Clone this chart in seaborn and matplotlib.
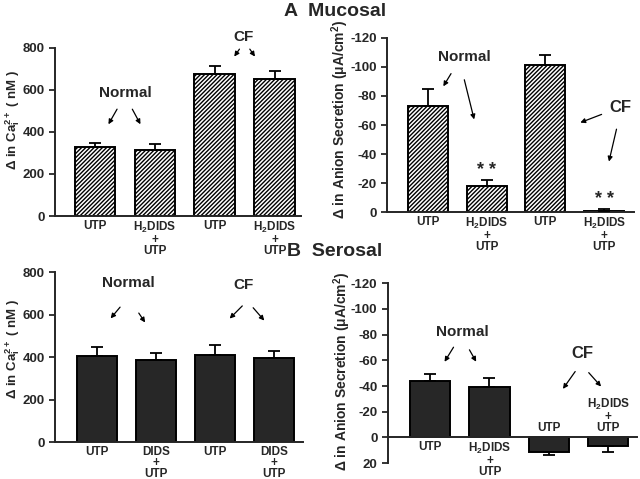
import matplotlib
matplotlib.use("Agg")
import matplotlib.pyplot as plt
import seaborn as sns

# 数据
x_pos = [0, 1, 2, 3]
muc_ca = [328, 315, 678, 650]
muc_ca_err = [18, 28, 36, 40]
muc_isc = [-73, -18, -101, -1]
muc_isc_err = [12, 4.5, 7.5, 1]
ser_ca = [407, 387, 412, 395]
ser_ca_err = [42, 30, 44, 32]
ser_isc = [-44, -39, 11, 7]
ser_isc_err = [5, 7.5, 3, 4]

lbl_dids2 = "H$_2$DIDS\n+\nUTP"
lbl_dids = "DIDS\n+\nUTP"
muc_ticks = ["UTP", lbl_dids2, "UTP", lbl_dids2]
ser_ca_ticks = ["UTP", lbl_dids, "UTP", lbl_dids]

sns.set_style("ticks")
plt.rcParams['font.family'] = ['Liberation Sans', 'DejaVu Sans']
plt.rcParams['font.weight'] = 'bold'
plt.rcParams['axes.unicode_minus'] = False
plt.rcParams['mathtext.fontset'] = 'custom'
plt.rcParams['mathtext.rm'] = 'Liberation Sans:bold'
plt.rcParams['mathtext.bf'] = 'Liberation Sans:bold'
plt.rcParams['mathtext.it'] = 'Liberation Sans:bold'
plt.rcParams['mathtext.default'] = 'bf'
plt.rcParams['hatch.linewidth'] = 1.0

fig = plt.figure(figsize=(6.4, 4.79), dpi=100)
ax_tl = fig.add_axes([0.086, 0.549, 0.385, 0.351])
ax_tr = fig.add_axes([0.605, 0.557, 0.385, 0.364])
ax_bl = fig.add_axes([0.086, 0.077, 0.388, 0.355])
ax_br = fig.add_axes([0.606, 0.033, 0.389, 0.376])

ylab_ca = "$\\Delta$ in Ca$^{2+}_{i}$ ( nM )"
ylab_isc = "$\\Delta$ in Anion Secretion ($\\mu$A/cm$^2$)"


def draw(ax, vals, errs, mucosal):
    fc = "white" if mucosal else "#272727"
    sns.barplot(x=x_pos, y=vals, ax=ax, width=0.68, color=fc,
                edgecolor="black", linewidth=1.4, saturation=1)
    if mucosal:
        for p in ax.patches:
            p.set_hatch("////////")
    lower = [e if v < 0 else 0 for v, e in zip(vals, errs)]
    upper = [e if v >= 0 else 0 for v, e in zip(vals, errs)]
    ax.errorbar(x_pos, vals, yerr=[lower, upper], fmt="none", ecolor="black",
                elinewidth=1.3, capsize=4, capthick=1.3, zorder=5)
    sns.despine(ax=ax)
    for s in ["left", "bottom"]:
        ax.spines[s].set_linewidth(1.4)
    ax.tick_params(axis="y", labelsize=9.5, width=1.3, length=4)
    ax.tick_params(axis="x", length=0, labelsize=8.5, pad=3)


def ylabel(ax, text, x, y, size):
    ax.set_ylabel(text, fontsize=size, fontweight="bold", va="center")
    ax.yaxis.set_label_coords(x, y)


def arrow(ax, x0, y0, x1, y1):
    ax.annotate("", xy=(x1, y1), xytext=(x0, y0), annotation_clip=False,
                arrowprops=dict(arrowstyle="-|>", color="black", lw=0.9,
                                mutation_scale=7))


# A Mucosal - Ca
draw(ax_tl, muc_ca, muc_ca_err, True)
ax_tl.set_ylim(0, 800)
ax_tl.set_xlim(-0.67, 3.45)
ax_tl.set_yticks([0, 200, 400, 600, 800])
ax_tl.set_xticks(x_pos)
ax_tl.set_xticklabels(muc_ticks, va="top", linespacing=0.85)
ylabel(ax_tl, ylab_ca, -0.172, 0.57, 9.5)
ax_tl.set_xlabel("")
ax_tl.text(0.5, 585, "Normal", ha="center", va="center", fontsize=11, fontweight="bold")
arrow(ax_tl, 0.39, 520, 0.2, 425)
arrow(ax_tl, 0.6, 520, 0.78, 425)
ax_tl.text(2.48, 850, "CF", ha="center", va="center", fontsize=11, fontweight="bold", clip_on=False)
arrow(ax_tl, 2.44, 805, 2.3, 748)
arrow(ax_tl, 2.56, 805, 2.7, 748)

# A Mucosal - Isc
draw(ax_tr, muc_isc, muc_isc_err, True)
ax_tr.set_ylim(0, -120)
ax_tr.set_xlim(-0.69, 3.5)
ax_tr.set_yticks([0, -20, -40, -60, -80, -100, -120])
ax_tr.set_xticks(x_pos)
ax_tr.set_xticklabels(muc_ticks, va="top", linespacing=0.85)
ylabel(ax_tr, ylab_isc, -0.19, 0.53, 10)
ax_tr.set_xlabel("")
ax_tr.text(0.62, -107, "Normal", ha="center", va="center", fontsize=11, fontweight="bold")
arrow(ax_tr, 0.42, -97, 0.24, -85)
arrow(ax_tr, 0.61, -93, 0.8, -62)
ax_tr.text(3.27, -72, "CF", ha="center", va="center", fontsize=12, fontweight="bold")
arrow(ax_tr, 3.0, -68, 2.55, -61)
arrow(ax_tr, 3.22, -59, 3.07, -33)
ax_tr.text(1, -29, "* *", ha="center", va="center", fontsize=13, fontweight="bold")
ax_tr.text(3, -9, "* *", ha="center", va="center", fontsize=13, fontweight="bold")

# B Serosal - Ca
draw(ax_bl, ser_ca, ser_ca_err, False)
ax_bl.set_ylim(0, 800)
ax_bl.set_xlim(-0.71, 3.49)
ax_bl.set_yticks([0, 200, 400, 600, 800])
ax_bl.set_xticks(x_pos)
ax_bl.set_xticklabels(ser_ca_ticks, va="top", linespacing=0.85)
ylabel(ax_bl, ylab_ca, -0.17, 0.55, 9.5)
ax_bl.set_xlabel("")
ax_bl.text(0.53, 748, "Normal", ha="center", va="center", fontsize=11, fontweight="bold")
arrow(ax_bl, 0.42, 645, 0.2, 572)
arrow(ax_bl, 0.68, 618, 0.84, 552)
ax_bl.text(2.47, 740, "CF", ha="center", va="center", fontsize=11, fontweight="bold")
arrow(ax_bl, 2.49, 650, 2.21, 572)
arrow(ax_bl, 2.61, 642, 2.86, 562)

# B Serosal - Isc
draw(ax_br, ser_isc, ser_isc_err, False)
ax_br.set_ylim(20, -120)
ax_br.set_xlim(-0.71, 3.48)
ax_br.set_yticks([20, 0, -20, -40, -60, -80, -100, -120])
ax_br.spines["bottom"].set_position(("data", 0))
ax_br.set_xticks([])
ylabel(ax_br, ylab_isc, -0.185, 0.51, 10)
ax_br.set_xlabel("")
ax_br.text(0, 3, "UTP", ha="center", va="top", fontsize=8.5, fontweight="bold")
ax_br.text(1, 3, lbl_dids2, ha="center", va="top", fontsize=8.5, fontweight="bold", linespacing=0.85)
ax_br.text(2, -3, "UTP", ha="center", va="bottom", fontsize=8.5, fontweight="bold")
ax_br.text(3, -3, lbl_dids2, ha="center", va="bottom", fontsize=8.5, fontweight="bold", linespacing=0.85)
ax_br.text(0.55, -82, "Normal", ha="center", va="center", fontsize=11, fontweight="bold")
arrow(ax_br, 0.42, -72, 0.22, -57)
arrow(ax_br, 0.64, -70, 0.8, -57)
ax_br.text(2.56, -65, "CF", ha="center", va="center", fontsize=12, fontweight="bold")
arrow(ax_br, 2.47, -53, 2.21, -36)
arrow(ax_br, 2.64, -52, 2.91, -38)

fig.text(0.523, 0.975, "A  Mucosal", ha="center", va="center", fontsize=14, fontweight="bold")
fig.text(0.523, 0.474, "B  Serosal", ha="center", va="center", fontsize=14, fontweight="bold")

fig.savefig("out.png", dpi=100)
